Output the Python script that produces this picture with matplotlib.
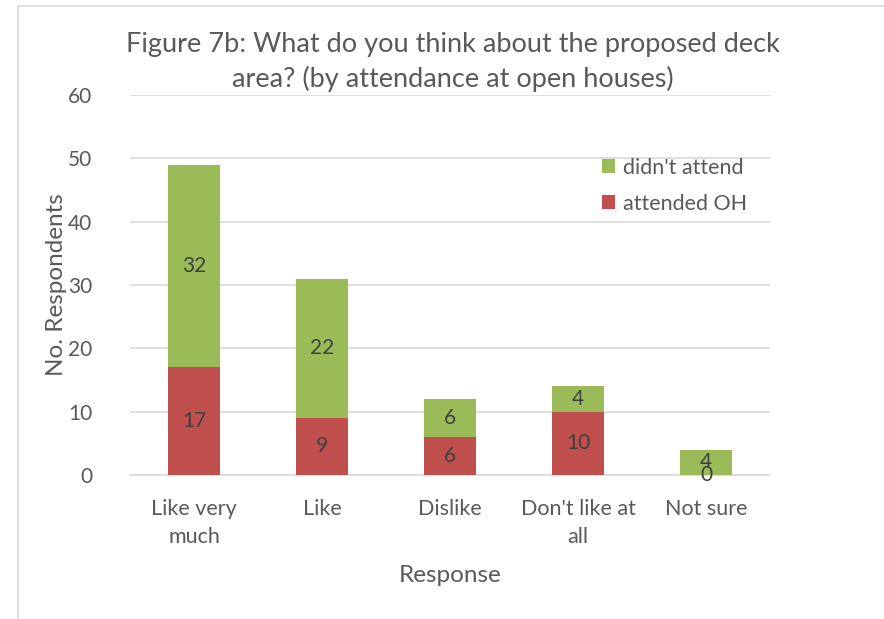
import matplotlib
matplotlib.use("Agg")
import matplotlib.pyplot as plt
from matplotlib.patches import Rectangle

categories = ["Like very\nmuch", "Like", "Dislike", "Don't like at\nall", "Not sure"]
attended_oh = [17, 9, 6, 10, 0]
didnt_attend = [32, 22, 6, 4, 4]
y_ticks = [0, 10, 20, 30, 40, 50, 60]

GREEN = "#9BBB59"
RED = "#C0504D"
TEXT = "#595959"
GRID = "#D9D9D9"

plt.rcParams["font.family"] = ["Lato", "DejaVu Sans"]

fig = plt.figure(figsize=(8.84, 6.19), dpi=100)
ax = fig.add_axes([130 / 884, 1 - 475 / 619, 640 / 884, 380 / 619])

# outer chart frame
fig.patches.append(Rectangle((18 / 884, -0.01), 1.0, 1 - 6 / 619 + 0.01,
                             transform=fig.transFigure, fill=False,
                             edgecolor=GRID, linewidth=1.2))

x = list(range(len(categories)))
w = 0.4
b1 = ax.bar(x, attended_oh, width=w, color=RED, label="attended OH", zorder=3)
b2 = ax.bar(x, didnt_attend, width=w, bottom=attended_oh, color=GREEN,
            label="didn't attend", zorder=3)

for i in x:
    ax.text(i, attended_oh[i] / 2, str(attended_oh[i]), ha="center", va="center",
            fontsize=15, color="#404040", zorder=4)
    ax.text(i, attended_oh[i] + didnt_attend[i] / 2, str(didnt_attend[i]),
            ha="center", va="center", fontsize=15, color="#404040", zorder=4)

ax.set_xlim(-0.5, len(categories) - 0.5)
ax.set_ylim(0, 60)
ax.set_yticks(y_ticks)
ax.set_xticks(x)
ax.set_xticklabels(categories, fontsize=15.5, color=TEXT, linespacing=1.5)
ax.tick_params(axis="y", labelsize=15, labelcolor=TEXT, length=0, pad=27)
ax.tick_params(axis="x", length=0, pad=17)
ax.grid(axis="y", color=GRID, linewidth=1.2, zorder=0)
for s in ["top", "right", "left"]:
    ax.spines[s].set_visible(False)
ax.spines["bottom"].set_color(GRID)
ax.spines["bottom"].set_linewidth(1.2)

ax.set_xlabel("Response", fontsize=17.5, color=TEXT, labelpad=13)
ax.set_ylabel("No. Respondents", fontsize=17.5, color=TEXT, labelpad=1)

fig.text(453 / 884, 1 - 62 / 619,
         "Figure 7b: What do you think about the proposed deck\narea? (by attendance at open houses)",
         ha="center", va="center", fontsize=19.5, color=TEXT, linespacing=1.4)

leg = ax.legend(handles=[b2, b1], loc="upper left",
                bbox_to_anchor=(593 / 640 - 130 / 640, (475 - 149) / 380),
                frameon=False, fontsize=15.5, handlelength=0.6, handleheight=0.6,
                handletextpad=0.4, labelspacing=0.75, borderaxespad=0)
for t in leg.get_texts():
    t.set_color(TEXT)

fig.savefig("out.png", dpi=100, facecolor="white")
